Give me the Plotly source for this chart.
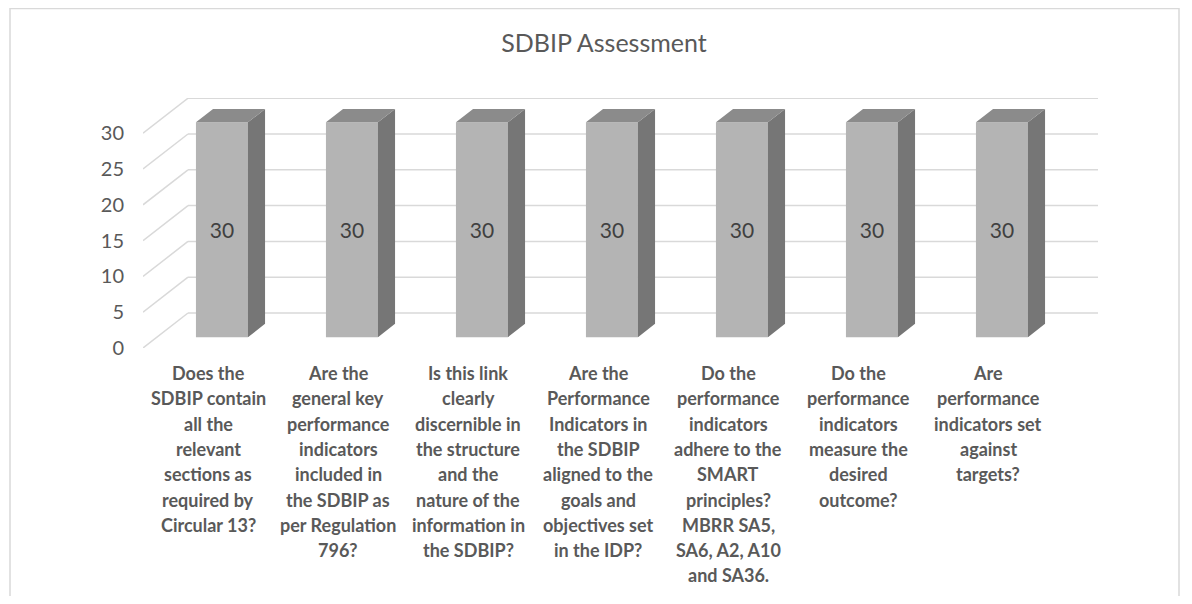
import plotly.graph_objects as go

# data
categories = [
    "Does the<br>SDBIP contain<br>all the<br>relevant<br>sections as<br>required by<br>Circular 13?",
    "Are the<br>general key<br>performance<br>indicators<br>included in<br>the SDBIP as<br>per Regulation<br>796?",
    "Is this link<br>clearly<br>discernible in<br>the structure<br>and the<br>nature of the<br>information in<br>the SDBIP?",
    "Are the<br>Performance<br>Indicators in<br>the SDBIP<br>aligned to the<br>goals and<br>objectives set<br>in the IDP?",
    "Do the<br>performance<br>indicators<br>adhere to the<br>SMART<br>principles?<br>MBRR SA5,<br>SA6, A2, A10<br>and SA36.",
    "Do the<br>performance<br>indicators<br>measure the<br>desired<br>outcome?",
    "Are<br>performance<br>indicators set<br>against<br>targets?",
]
values = [30, 30, 30, 30, 30, 30, 30]
y_ticks = [0, 5, 10, 15, 20, 25, 30]

TEXT = "#595959"
GRID = "#d9d9d9"
FRONT = "#b4b4b4"
SIDE = "#767676"
TOP = "#8b8b8b"

# page body has an 8px margin, so the figure is a bit smaller and shifted
W, H = 1184, 588
L, R, T, B = 135, 94, 90, 248
px_cat = 130.0
px_unit = 7.16
wall_dx = 45 / px_cat      # depth offset of back wall
wall_dy = 35 / px_unit
f0, f1 = 0.31, 0.69        # bar front / back depth fractions
half = 0.2                 # half bar width

x_rng = [-0.5, len(categories) - 0.5 + wall_dx]
y_rng = [0, (H - T - B) / px_unit]

xs = list(range(len(categories)))

fig = go.Figure()

# front faces
fig.add_trace(go.Bar(
    x=[x + f0 * wall_dx for x in xs], y=values, base=f0 * wall_dy, width=2 * half,
    marker=dict(color=FRONT, line=dict(width=0)),
    text=values, textposition="inside", insidetextanchor="middle", textangle=0,
    textfont=dict(family="Lato", size=21, color="#404040"),
    hoverinfo="skip", showlegend=False,
))

# side and top faces
sx, sy, tx, ty = [], [], [], []
for x, v in zip(xs, values):
    xfl = x + f0 * wall_dx - half
    xfr = x + f0 * wall_dx + half
    xbl = x + f1 * wall_dx - half
    xbr = x + f1 * wall_dx + half
    yfb, ybb = f0 * wall_dy, f1 * wall_dy
    yft, ybt = v + f0 * wall_dy, v + f1 * wall_dy
    sx += [xfr, xbr, xbr, xfr, xfr, None]
    sy += [yfb, ybb, ybt, yft, yfb, None]
    tx += [xfl, xfr, xbr, xbl, xfl, None]
    ty += [yft, yft, ybt, ybt, yft, None]

fig.add_trace(go.Scatter(x=sx, y=sy, mode="lines", fill="toself", fillcolor=SIDE,
                         line=dict(width=0, color=SIDE), hoverinfo="skip", showlegend=False))
fig.add_trace(go.Scatter(x=tx, y=ty, mode="lines", fill="toself", fillcolor=TOP,
                         line=dict(width=0, color=TOP), hoverinfo="skip", showlegend=False))

# gridlines on back wall + side wall
shapes = []
for v in y_ticks:
    shapes.append(dict(type="line", xref="x", yref="y", layer="below",
                       x0=x_rng[0], y0=v, x1=x_rng[0] + wall_dx, y1=v + wall_dy,
                       line=dict(color=GRID, width=1.5)))
    shapes.append(dict(type="line", xref="x", yref="y", layer="below",
                       x0=x_rng[0] + wall_dx, y0=v + wall_dy, x1=x_rng[1], y1=v + wall_dy,
                       line=dict(color=GRID, width=1.5)))

# chart border (pixel positions in figure space -> paper)
pw, ph = W - L - R, H - T - B
shapes.append(dict(type="rect", xref="paper", yref="paper", layer="below",
                   x0=(2 - L) / pw, x1=(1171 - L) / pw,
                   y0=(H - B - 640) / ph, y1=(H - B - 0.5) / ph,
                   line=dict(color=GRID, width=1.5), fillcolor="rgba(0,0,0,0)"))

# category labels, one annotation per line to get the wide line spacing
annotations = []
for x, cat in zip(xs, categories):
    for j, line in enumerate(cat.split("<br>")):
        annotations.append(dict(
            x=x, xref="x", y=0, yref="paper", yanchor="middle", xanchor="center",
            yshift=-25 - j * 25.3, text=line, showarrow=False,
            font=dict(family="Lato", size=18, color=TEXT, weight="bold"),
        ))

fig.update_layout(
    width=W, height=H,
    margin=dict(l=L, r=R, t=T, b=B),
    paper_bgcolor="white", plot_bgcolor="white",
    title=dict(text="SDBIP Assessment", x=(596 - L) / pw, xref="paper", xanchor="center",
               y=1 - 35 / H, yanchor="middle",
               font=dict(family="Lato", size=25, color=TEXT)),
    xaxis=dict(range=x_rng, showgrid=False, zeroline=False, showline=False,
               showticklabels=False, fixedrange=True),
    yaxis=dict(range=y_rng, showgrid=False, zeroline=False, showline=False,
               tickvals=y_ticks, ticklabelstandoff=18,
               tickfont=dict(family="Lato", size=20, color=TEXT), fixedrange=True),
    shapes=shapes,
    annotations=annotations,
    showlegend=False,
)

fig.write_html("out.html")
